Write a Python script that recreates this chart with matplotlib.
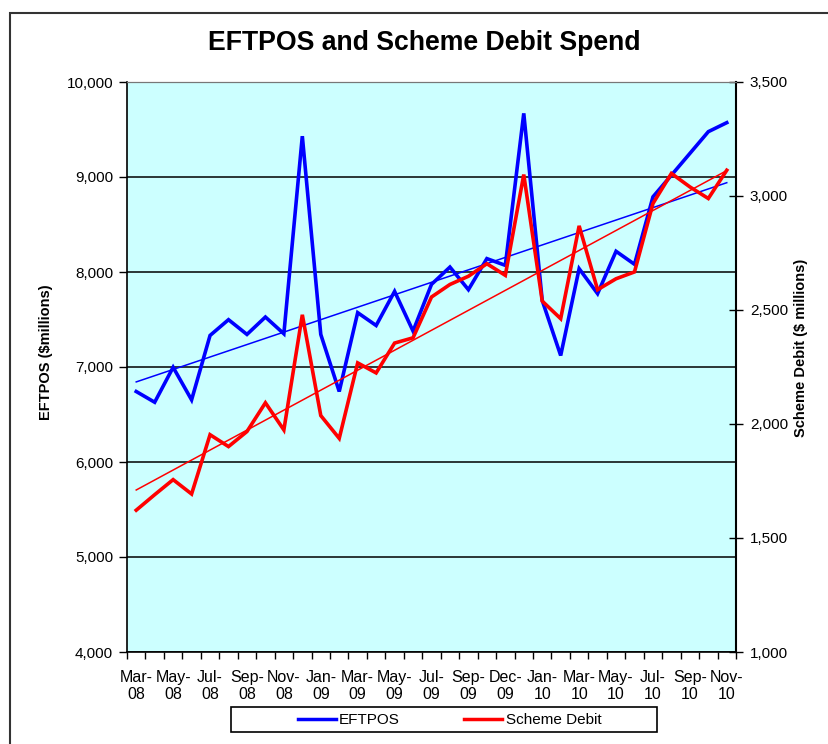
import numpy as np
import matplotlib
matplotlib.use("Agg")
import matplotlib.pyplot as plt
from matplotlib.patches import Rectangle
from matplotlib.ticker import FuncFormatter, MultipleLocator

plt.rcParams['font.family'] = ['Liberation Sans', 'DejaVu Sans']

# monthly values, Mar-08 .. Nov-10
eftpos = [6742, 6629, 6997, 6654, 7332, 7498, 7343, 7526, 7350, 9430,
          7343, 6742, 7572, 7437, 7796, 7378, 7870, 8052, 7814, 8141,
          8070, 9670, 7700, 7121, 8035, 7772, 8218, 8081, 8791, 9019,
          9248, 9477, 9572]
scheme_debit = [1622, 1690, 1756, 1693, 1953, 1901, 1967, 2093, 1974, 2479,
                2037, 1937, 2268, 2224, 2355, 2378, 2557, 2612, 2648, 2703,
                2652, 3094, 2539, 2462, 2869, 2589, 2637, 2667, 2967, 3099,
                3040, 2989, 3113]
tick_labels = ["Mar-\n08", "May-\n08", "Jul-\n08", "Sep-\n08", "Nov-\n08",
               "Jan-\n09", "Mar-\n09", "May-\n09", "Jul-\n09", "Sep-\n09",
               "Dec-\n09", "Jan-\n10", "Mar-\n10", "May-\n10", "Jul-\n10",
               "Sep-\n10", "Nov-\n10"]

x = np.arange(len(eftpos))

fig = plt.figure(figsize=(8.29, 7.44), dpi=100)
ax = fig.add_axes([127 / 829, 1 - 652 / 744, 609 / 829, 570 / 744])
ax2 = ax.twinx()

ax.set_facecolor('#CCFFFF')
ax2.patch.set_visible(False)

# trend lines (least squares over the months)
b_fit = np.polyfit(x, eftpos, 1)
r_fit = np.polyfit(x, scheme_debit, 1)

ax.set_ylim(4000, 10000)
ax2.set_ylim(1000, 3500)
ax.set_xlim(-0.5, len(x) - 0.5)

ax.plot(x, eftpos, color='#0000FF', lw=2.6, zorder=3, solid_joinstyle='miter')
ax.plot(x, np.polyval(b_fit, x), color='#0000FF', lw=1.1, zorder=3)
ax2.plot(x, scheme_debit, color='#FF0000', lw=2.6, zorder=3, solid_joinstyle='miter')
ax2.plot(x, np.polyval(r_fit, x), color='#FF0000', lw=1.1, zorder=3)

# gridlines
ax.yaxis.set_major_locator(MultipleLocator(1000))
ax.grid(axis='y', color='black', lw=1.1)
ax.set_axisbelow(True)

fmt = FuncFormatter(lambda v, p: f"{int(v):,}")
ax.yaxis.set_major_formatter(fmt)
ax2.yaxis.set_major_locator(MultipleLocator(500))
ax2.yaxis.set_major_formatter(fmt)

ax.set_xticks(x[::2])
ax.set_xticklabels(tick_labels, fontsize=11.5, linespacing=1.15)
ax.set_xticks(np.arange(-0.5, len(x), 1), minor=True)
ax.tick_params(axis='x', which='major', length=0, pad=13)
ax.tick_params(axis='x', which='minor', length=5, width=1, direction='out')
ax.tick_params(axis='y', labelsize=11, length=6, width=1, direction='out', pad=4)
ax2.tick_params(axis='y', labelsize=11, length=10, width=1, direction='inout', pad=5)

for s in ['left', 'bottom']:
    ax.spines[s].set_color('black')
    ax.spines[s].set_linewidth(1.2)
ax.spines['top'].set_color('#777777')
ax.spines['right'].set_visible(False)
ax2.spines['right'].set_color('black')
ax2.spines['right'].set_linewidth(1.5)
ax2.spines['top'].set_color('#777777')
ax2.spines['left'].set_visible(False)
ax2.spines['bottom'].set_visible(False)

ax.set_ylabel('EFTPOS ($millions)', fontsize=10.5, fontweight='bold')
ax.yaxis.set_label_coords((53 - 127) / 609, (652 - 352) / 570)
ax2.set_ylabel('Scheme Debit ($ millions)', fontsize=10.5, fontweight='bold')
ax2.yaxis.set_label_coords((794 - 127) / 609, (652 - 348) / 570)

fig.text(424 / 829, 1 - 43 / 744, 'EFTPOS and Scheme Debit Spend',
         ha='center', va='center', fontsize=19.2, fontweight='bold')

# legend: entries plus a plain box like the original
h1, = ax.plot([], [], color='#0000FF', lw=2.5, label='EFTPOS')
h2, = ax.plot([], [], color='#FF0000', lw=2.5, label='Scheme Debit')
leg = fig.legend(handles=[h1, h2], ncol=2, loc='center left',
                 bbox_to_anchor=(298 / 829, 1 - 720 / 744),
                 frameon=False, fontsize=11, borderpad=0, borderaxespad=0,
                 handlelength=2.5, columnspacing=4.2, handletextpad=0.2)
fig.patches.append(Rectangle((231 / 829, 1 - 732 / 744), 426 / 829, 25 / 744,
                             transform=fig.transFigure, fill=False,
                             edgecolor='black', lw=1.2))

fig.patches.append(Rectangle((10 / 829, -0.05), 1.2, 1.05 - 13 / 744,
                             transform=fig.transFigure, fill=False,
                             edgecolor='#333333', lw=1.5))

fig.savefig('out.png', dpi=100)
